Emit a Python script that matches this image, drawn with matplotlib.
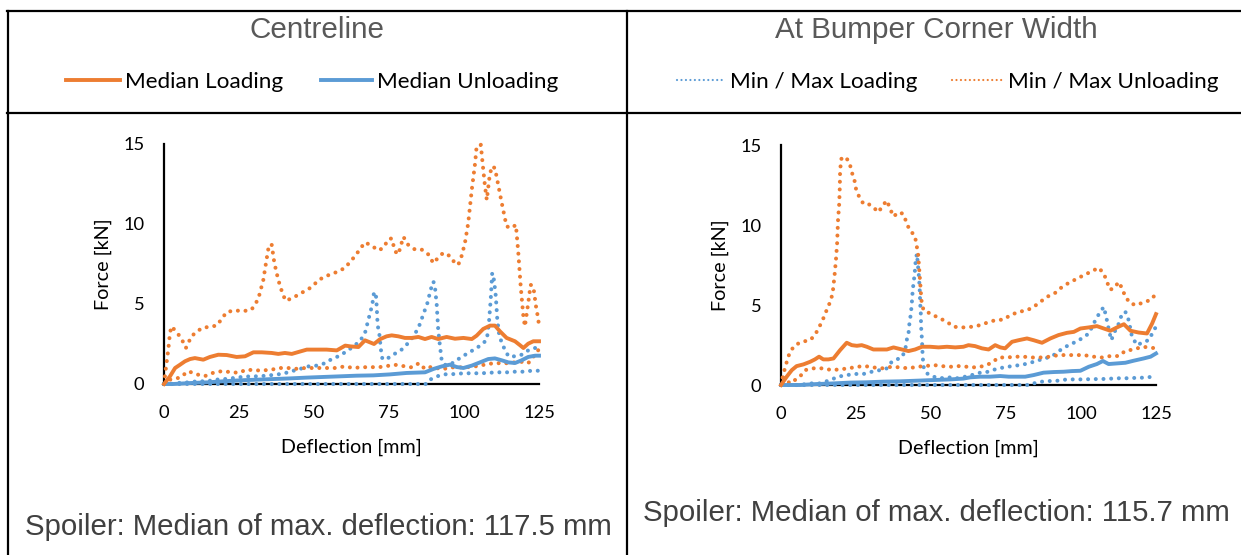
import matplotlib
matplotlib.use("Agg")
import matplotlib.pyplot as plt
from matplotlib.lines import Line2D

W, H = 1241, 555
ORANGE = "#ED7D31"
BLUE = "#5B9BD5"

panel_titles = ["Centreline", "At Bumper Corner Width"]
spoiler_texts = ["Spoiler: Median of max. deflection: 117.5 mm",
                 "Spoiler: Median of max. deflection: 115.7 mm"]
x_ticks = [0, 25, 50, 75, 100, 125]
y_ticks = [0, 5, 10, 15]

# ---- Centreline ----
cl_orange_hi_x = [0, 0.7, 1.4, 2, 2.5, 4.4, 5.9, 7.3, 9.2, 12.6, 17.6, 20.9, 23.7, 26.4, 29.2, 31.4,
                  33.1, 34.2, 35, 35.9, 36.8, 38.1, 39.6, 40.6, 43.1, 45.9, 48.7, 52, 54.8, 57.6, 60.3,
                  63.7, 65.6, 67, 69.2, 71.4, 73.1, 74.8, 75.9, 77, 78.1, 79.8, 81.4, 83.7, 85.9, 88.1,
                  89.8, 91.4, 93.1, 95.3, 97, 98.1, 99.2, 100.3, 101.4, 102.6, 103.7, 104.2, 105.6,
                  106.2, 107, 107.6, 108.4, 109.2, 110.3, 111.4, 112.6, 114.2, 115.9, 117.3, 118.1,
                  118.9, 119.8, 120.3, 121.4, 122.2, 123.1, 124, 124.8, 125]
cl_orange_hi_y = [0, 1.1, 2.1, 3.2, 3.6, 3.2, 2.8, 2.25, 3.0, 3.5, 3.65, 4.5, 4.6, 4.55, 4.65, 5.3,
                  6.5, 7.8, 8.7, 8.7, 7.55, 6.5, 5.6, 5.2, 5.4, 5.7, 6.0, 6.55, 6.8, 7.0, 7.25,
                  8.0, 8.5, 8.85, 8.65, 8.35, 8.5, 9.05, 9.1, 8.3, 8.1, 9.2, 8.7, 8.4, 8.4, 8.1,
                  7.55, 7.9, 8.2, 8.0, 7.55, 7.45, 8.0, 8.8, 10.05, 12.15, 13.8, 14.85, 14.95,
                  13.8, 12.35, 11.5, 12.8, 13.6, 13.5, 12.45, 11.3, 9.85, 9.75, 9.95, 8.2,
                  6.1, 4.2, 3.6, 5.05, 6.2, 6.1, 4.85, 4.0, 3.5]
cl_orange_lo_x = [0, 2, 5.3, 8.1, 10.9, 13.7, 16.4, 19.2, 22, 24.8, 27.6, 30.3, 33.1, 35.9, 38.7,
                  41.4, 44.2, 47, 49.8, 53.1, 57, 60.3, 63.1, 65.9, 68.7, 72, 77, 82.6, 85, 87,
                  89.2, 92.6, 95.9, 99.8, 103.1, 106.4, 109.8, 112, 114.8, 118.7, 121.4, 124.4, 125]
cl_orange_lo_y = [0, 0.27, 0.4, 0.8, 0.6, 0.5, 0.7, 0.8, 0.75, 0.7, 0.9, 0.85, 0.85, 0.9, 1.0,
                  1.0, 0.95, 1.0, 1.0, 1.0, 1.0, 1.1, 1.0, 1.05, 1.05, 1.06, 1.2, 1.04, 1.3, 0.94,
                  1.08, 0.92, 1.04, 1.04, 1.08, 1.19, 1.3, 1.3, 1.3, 1.4, 1.3, 2.0, 2.2]
cl_blue_hi_x = [0, 2, 4.4, 7.8, 11.1, 14.4, 17, 19.8, 23, 25.9, 28.7, 31.4, 34.2, 37, 39.8,
                42.6, 45.3, 48.1, 50.9, 53.7, 55.9, 58.1, 60.9, 63.1, 65.3, 67, 68.1, 69, 69.6, 70,
                70.6, 70.9, 71.2, 71.8, 72.3, 72.8, 74.2, 76.4, 79.2, 81.4, 83.1, 84.8, 86.4, 87.8,
                88.9, 89.8, 90.3, 90.9, 91.4, 92, 92.6, 93.7, 95.3, 97, 99.2, 101.4, 103.7, 105.9,
                107.6, 108.3, 108.9, 109.4, 110, 110.6, 111.1, 111.8, 113.1, 114.8, 117, 119.2,
                121.8, 123.7, 125]
cl_blue_hi_y = [0, 0, 0.06, 0.1, 0.17, 0.17, 0.27, 0.3, 0.37, 0.44, 0.48, 0.48, 0.52, 0.58, 0.65,
                0.8, 0.94, 1.1, 1.15, 1.3, 1.56, 1.73, 2.04, 2.35, 2.67, 3.19, 4.0, 4.65, 5.17, 5.73,
                5.69, 4.85, 3.7, 3.08, 2.15, 1.56, 1.56, 1.83, 2.15, 2.56, 2.98, 3.5, 4.33, 5.06,
                5.9, 6.4, 6.1, 4.96, 3.4, 2.35, 1.42, 1.2, 1.2, 1.42, 1.69, 1.94, 2.19, 2.46,
                2.77, 3.8, 5.27, 6.94, 6.5, 5.48, 4.02, 2.98, 2.35, 1.73, 1.73, 1.83,
                2.15, 2.25, 2.3]
cl_blue_lo_x = [0, 87.6, 89, 91.4, 94.2, 96.9, 99.8, 103.1, 105.9, 108, 111.4, 114.8, 117, 119.8, 122.6, 125]
cl_blue_lo_y = [0, 0, 0.3, 0.5, 0.62, 0.62, 0.67, 0.67, 0.67, 0.7, 0.73, 0.73, 0.77, 0.77, 0.83, 0.83]
cl_orange_med_x = [0, 2, 3.7, 5.3, 7, 8.7, 10.3, 13.1, 15.3, 18.1, 20.9, 24.2, 27, 29.8, 32.6,
                   35.9, 38.1, 40.3, 42.6, 44.8, 47.6, 50.9, 54.2, 57.6, 60.4, 62.2, 64.8, 67, 68.7, 70,
                   72, 74.2, 75.9, 78.1, 80.3, 82.6, 84.8, 87, 89.2, 91.4, 94.2, 97, 99.8, 102.6, 104.2,
                   106.4, 108.7, 110.3, 112, 114.2, 117, 118.7, 119.8, 121.4, 123.1, 125]
cl_orange_med_y = [0, 0.48, 1.0, 1.2, 1.42, 1.56, 1.62, 1.52, 1.69, 1.83, 1.81, 1.69, 1.73, 1.98, 1.98,
                   1.94, 1.88, 1.94, 1.88, 2.0, 2.15, 2.15, 2.15, 2.1, 2.4, 2.35, 2.31, 2.73, 2.6, 2.5,
                   2.8, 2.98, 3.04, 2.98, 2.88, 2.88, 2.94, 2.81, 2.94, 2.81, 2.94, 2.83, 2.88, 2.81, 3.02,
                   3.44, 3.65, 3.65, 3.29, 2.88, 2.67, 2.42, 2.25, 2.52, 2.67, 2.67]
cl_blue_med_x = [0, 3.1, 8.7, 14.2, 19.8, 25.3, 30.9, 36.4, 42, 47.6, 53.1, 58.7, 64.2, 69.8, 75.3,
                 80.9, 87, 89.8, 92.6, 95.3, 97.6, 99.8, 102.6, 105.3, 108.1, 110.3, 112.6, 114.8,
                 117, 119.2, 121.4, 123.7, 125]
cl_blue_med_y = [0, 0, 0.06, 0.1, 0.17, 0.23, 0.27, 0.31, 0.35, 0.4, 0.44, 0.48, 0.52, 0.54, 0.6,
                 0.69, 0.73, 0.94, 1.1, 1.21, 1.06, 1.0, 1.15, 1.35, 1.56, 1.6, 1.48, 1.35,
                 1.31, 1.48, 1.69, 1.77, 1.77]

# ---- At bumper corner width ----
bc_orange_hi_x = [0, 0.6, 1.3, 2.1, 3, 4.7, 6.9, 9.7, 11.3, 12.8, 14.1, 15.2, 16.4, 17.2, 17.8,
                  18.3, 18.7, 19, 19.4, 19.6, 19.7, 20.1, 21.4, 22.8, 23.6, 24.5, 25, 26.1, 27.5, 29.1,
                  30.8, 32.5, 33.9, 35.3, 36.4, 37.5, 39.2, 40.7, 41.8, 42.9, 44.6, 45.1, 45.7, 46.1,
                  46.5, 46.8, 47.5, 49.7, 51.9, 55.3, 57.5, 60.8, 63.6, 66.4, 68.6, 71.4, 74.2, 76.4,
                  79.2, 82, 84.2, 86.4, 88.7, 91.4, 93.7, 95.9, 98.1, 100.9, 103.1, 105.9, 107.6,
                  108.7, 109.6, 110.9, 112.6, 113.7, 114.8, 116.5, 118.7, 120.9, 123.2, 125]
bc_orange_hi_y = [0, 0.52, 1.04, 1.56, 2.08, 2.49, 2.7, 2.8, 3.12, 3.64, 4.16, 4.67, 5.2, 5.71, 6.75,
                  7.79, 8.83, 10.28, 11.32, 12.36, 13.4, 14.13, 14.27, 13.92, 13.3, 12.78, 12.26, 11.74,
                  11.32, 11.32, 11.1, 10.8, 11.22, 11.53, 11.0, 10.53, 10.8, 10.7, 10.18, 9.66, 9.35,
                  8.83, 8.2, 7.17, 6.13, 5.3, 4.67, 4.47, 4.26, 3.95, 3.64, 3.6, 3.64, 3.74, 3.89,
                  4.05, 4.09, 4.36, 4.57, 4.67, 4.88, 5.19, 5.51, 5.76, 6.13, 6.38, 6.59, 6.86, 7.06,
                  7.33, 6.96, 6.44, 5.96, 6.03, 6.44, 6.03, 5.51, 5.09, 4.99, 5.19, 5.3, 5.7]
bc_orange_lo_x = [0, 0.8, 3, 6.3, 8, 10.8, 14.1, 16.9, 19.7, 22.5, 25.3, 28, 30.8, 33.6, 36.9,
                  39.7, 42.5, 45.3, 48.1, 50.8, 53.6, 56.4, 59.2, 62, 64.7, 67.5, 70.3, 72.5, 75.3,
                  78.1, 80.8, 83.6, 86.4, 89.8, 92.5, 95.3, 98.1, 100.9, 104.2, 107, 109.8, 112.6,
                  114.8, 117.6, 120.4, 122.6, 125]
bc_orange_lo_y = [0, 0.48, 0.1, 0.52, 0.93, 1.04, 1.04, 0.93, 0.98, 1.04, 1.14, 1.18, 1.1, 1.04, 1.14,
                  1.1, 1.04, 1.14, 1.18, 1.25, 1.18, 1.14, 1.18, 1.14, 1.1, 1.18, 1.39, 1.72, 1.72,
                  1.77, 1.77, 1.72, 1.72, 1.77, 1.87, 1.87, 1.87, 1.87, 1.77, 1.72, 1.81, 1.81,
                  2.14, 2.22, 2.39, 2.35, 2.29]
bc_blue_hi_x = [0, 3, 6.3, 9.7, 13, 16.4, 19.1, 21.9, 24.7, 27.5, 30.3, 33, 35.3, 36.9, 38.6,
                40.3, 41.4, 41.9, 42.5, 42.8, 43.3, 43.6, 43.9, 44.3, 44.6, 44.9, 45.3, 45.6, 45.9,
                46.2, 46.4, 46.6, 46.7, 47, 47.2, 47.5, 48.6, 50.8, 53.1, 55.8, 58.6, 61.4, 63.6,
                66.4, 69.2, 71.4, 74.2, 77, 79.8, 82.5, 85.3, 88.1, 90.9, 93.1, 95.3, 97.6, 100.3,
                102.6, 104.8, 106.2, 107.6, 108.4, 109.2, 110.1, 111.2, 112.6, 113.7, 114.8, 115.9,
                117, 118.7, 120.9, 122.6, 124.3, 125]
bc_blue_hi_y = [0, 0, 0, 0.1, 0.1, 0.31, 0.52, 0.62, 0.69, 0.69, 0.83, 0.93, 1.04, 1.45, 1.6,
                1.72, 2.18, 2.8, 3.22, 3.84, 4.47, 5.09, 5.92, 6.54, 7.06, 7.79, 8.2, 7.58, 6.96,
                6.13, 5.09, 4.47, 3.64, 2.8, 1.87, 1.14, 0.73, 0.52, 0.42, 0.48, 0.42, 0.52, 0.62,
                0.77, 0.83, 0.98, 1.1, 1.18, 1.25, 1.35, 1.52, 1.66, 1.87, 2.18, 2.43, 2.64, 2.91,
                3.22, 4.05, 4.51, 4.88, 4.26, 3.53, 2.8, 3.32, 3.84, 4.47, 4.57, 4.05,
                3.01, 2.49, 2.7, 2.8, 3.43, 3.64]
bc_blue_lo_x = [0, 83, 84.2, 87, 89.8, 92.5, 95.3, 98.1, 100.9, 103.7, 106.5, 109.2, 112, 114.8,
                117.6, 120.9, 124.3, 125]
bc_blue_lo_y = [0, 0, 0.1, 0.21, 0.25, 0.27, 0.35, 0.35, 0.35, 0.37, 0.37, 0.39, 0.42, 0.42,
                0.44, 0.46, 0.52, 0.52]
bc_orange_med_x = [0, 1.9, 3.6, 5.2, 7.5, 9.7, 11.3, 12.7, 14.1, 15.8, 17.5, 19.7, 21.9, 23.6, 25.3,
                   26.9, 28.6, 30.8, 33, 35.3, 37.5, 40.3, 42.5, 44.7, 47, 49.7, 52.5, 55.3, 58.1, 60.8,
                   62.5, 64.7, 67, 69.2, 71.4, 73.1, 74.7, 77, 79.2, 82, 84.2, 87, 89.8, 92.5, 95.3,
                   97.6, 99.8, 102.6, 105.3, 107.6, 109.8, 112, 114.3, 116.5, 119.2, 122, 123.7, 125]
bc_orange_med_y = [0, 0.52, 0.93, 1.18, 1.29, 1.45, 1.6, 1.77, 1.6, 1.6, 1.66, 2.18, 2.64, 2.49, 2.45,
                   2.49, 2.39, 2.22, 2.22, 2.22, 2.35, 2.22, 2.12, 2.22, 2.39, 2.39, 2.35, 2.39, 2.35, 2.39,
                   2.49, 2.43, 2.29, 2.22, 2.49, 2.35, 2.29, 2.7, 2.8, 2.91, 2.8, 2.64, 2.91, 3.12, 3.26,
                   3.32, 3.53, 3.6, 3.68, 3.53, 3.39, 3.6, 3.8, 3.39, 3.28, 3.22, 3.84, 4.43]
bc_blue_med_x = [0, 6.3, 11.9, 17.5, 23, 28.6, 34.1, 39.7, 45.3, 50.8, 56.4, 60.8, 63.1, 66.4, 69.7,
                 73.1, 75.9, 78.6, 81.4, 84.2, 87.5, 90.9, 94.2, 97, 99.8, 102.6, 105.3, 107.3, 109.2,
                 112, 114.8, 117.6, 120.9, 123.2, 125]
bc_blue_med_y = [0, 0, 0.06, 0.1, 0.15, 0.17, 0.21, 0.23, 0.27, 0.31, 0.35, 0.4, 0.48, 0.52, 0.52,
                 0.56, 0.52, 0.52, 0.52, 0.62, 0.77, 0.81, 0.83, 0.87, 0.89, 1.14, 1.31, 1.5, 1.31,
                 1.35, 1.39, 1.52, 1.66, 1.77, 1.97]

panels = [
    [(cl_blue_hi_x, cl_blue_hi_y, BLUE, ":"), (cl_blue_lo_x, cl_blue_lo_y, BLUE, ":"),
     (cl_orange_hi_x, cl_orange_hi_y, ORANGE, ":"), (cl_orange_lo_x, cl_orange_lo_y, ORANGE, ":"),
     (cl_blue_med_x, cl_blue_med_y, BLUE, "-"), (cl_orange_med_x, cl_orange_med_y, ORANGE, "-")],
    [(bc_blue_hi_x, bc_blue_hi_y, BLUE, ":"), (bc_blue_lo_x, bc_blue_lo_y, BLUE, ":"),
     (bc_orange_hi_x, bc_orange_hi_y, ORANGE, ":"), (bc_orange_lo_x, bc_orange_lo_y, ORANGE, ":"),
     (bc_blue_med_x, bc_blue_med_y, BLUE, "-"), (bc_orange_med_x, bc_orange_med_y, ORANGE, "-")],
]

CAL = "Lato"
ARIAL = "Liberation Sans"


def fx(px):
    return px / W


def fy(py):
    return 1 - py / H


fig = plt.figure(figsize=(W / 100, H / 100), dpi=100)

# pixel boxes of the plotting areas: left, right, top(y=15), bottom(y=0)
boxes = [(164, 539, 144, 384), (781, 1156, 145, 385)]

for box, series in zip(boxes, panels):
    l, r, t, b = box
    ax = fig.add_axes([fx(l), fy(b), fx(r) - fx(l), fy(t) - fy(b)])
    for xs, ys, col, ls in series:
        if ls == "-":
            ax.plot(xs, ys, color=col, lw=2.8, solid_joinstyle="round", clip_on=False)
        else:
            ax.plot(xs, ys, color=col, lw=2.9, linestyle=(0, (0.01, 1.9)),
                    dash_capstyle="round", clip_on=False)
    ax.set_xlim(0, 125)
    ax.set_ylim(0, 15)
    ax.set_xticks(x_ticks)
    ax.set_yticks(y_ticks)
    for s in ["top", "right"]:
        ax.spines[s].set_visible(False)
    for s in ["left", "bottom"]:
        ax.spines[s].set_linewidth(1.6)
        ax.spines[s].set_color("black")
        ax.spines[s].set_zorder(1)
    ax.tick_params(length=0, labelsize=13.2, pad=14)
    ax.tick_params(axis="x", pad=15)
    for lab in ax.get_xticklabels() + ax.get_yticklabels():
        lab.set_fontfamily(CAL)
    ax.set_xlabel("Deflection [mm]", fontsize=14.2, fontfamily=CAL)
    ax.set_ylabel("Force [kN]", fontsize=14.2, fontfamily=CAL)
    ax.xaxis.set_label_coords(0.5, -0.2625)
    ax.xaxis.label.set_va("center")
    ax.yaxis.set_label_coords(-0.163, 0.5)
    ax.yaxis.label.set_va("center")
    ax.patch.set_alpha(0)

# table grid
grid_kw = dict(transform=fig.transFigure, color="black", lw=1.6)
fig.add_artist(Line2D([fx(7), 1], [fy(11), fy(11)], **grid_kw))
fig.add_artist(Line2D([fx(7), 1], [fy(113), fy(113)], **grid_kw))
fig.add_artist(Line2D([fx(7.5), fx(7.5)], [fy(11), 0], **grid_kw))
fig.add_artist(Line2D([fx(627), fx(627)], [fy(11), 0], **grid_kw))

# titles and notes
fig.text(fx(317), fy(30), panel_titles[0], ha="center", va="center", fontsize=21.3,
         fontfamily=ARIAL, color="#595959")
fig.text(fx(936), fy(30), panel_titles[1], ha="center", va="center", fontsize=21.3,
         fontfamily=ARIAL, color="#595959")
fig.text(fx(318), fy(527), spoiler_texts[0], ha="center", va="center", fontsize=21.2,
         fontfamily=ARIAL, color="#404040")
fig.text(fx(936), fy(513), spoiler_texts[1], ha="center", va="center", fontsize=21.2,
         fontfamily=ARIAL, color="#404040")

# legend rows
legend_items = [
    (66, 120, ORANGE, "-", "Median Loading"),
    (321, 372, BLUE, "-", "Median Unloading"),
    (677, 725, BLUE, ":", "Min / Max Loading"),
    (952, 1003, ORANGE, ":", "Min / Max Unloading"),
]
for x0, x1, col, ls, txt in legend_items:
    if ls == "-":
        fig.add_artist(Line2D([fx(x0), fx(x1)], [fy(80), fy(80)], transform=fig.transFigure,
                              color=col, lw=2.8))
    else:
        fig.add_artist(Line2D([fx(x0), fx(x1)], [fy(80), fy(80)], transform=fig.transFigure,
                              color=col, lw=1.6, linestyle=(0, (0.01, 2.0)), dash_capstyle="round"))
    fig.text(fx(x1 + 5), fy(82), txt, ha="left", va="center", fontsize=16.2, fontfamily=CAL,
             color="black")

fig.savefig("out.png", dpi=100)
